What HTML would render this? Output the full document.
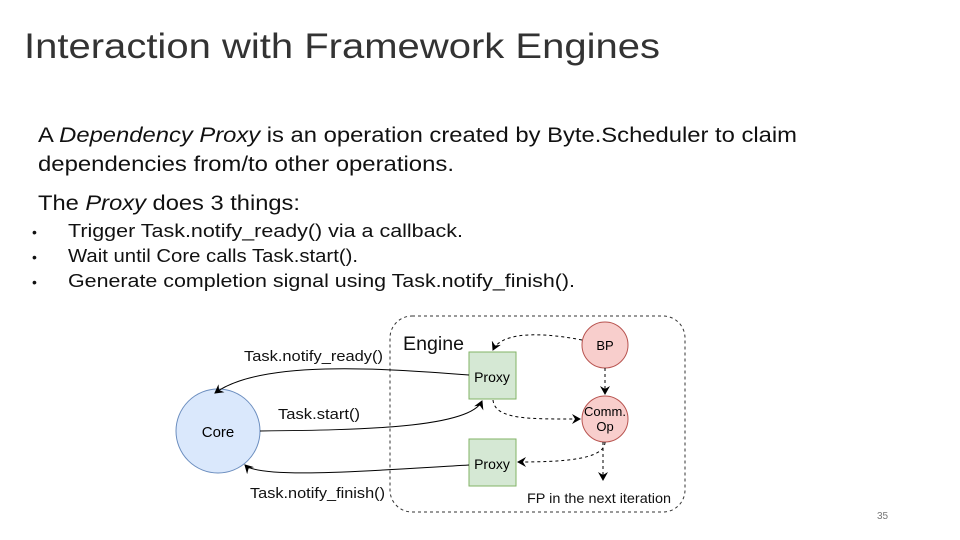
<!DOCTYPE html>
<html><head><meta charset="utf-8"><style>html,body{margin:0;padding:0;background:#fff}svg{display:block}</style></head>
<body>
<svg width="960" height="540" viewBox="0 0 960 540" xmlns="http://www.w3.org/2000/svg" font-family="Liberation Sans, sans-serif">
<defs>
<marker id="a" markerWidth="10" markerHeight="10" refX="8" refY="5" orient="auto" markerUnits="userSpaceOnUse"><path d="M0,0 L9,5 L0,10 L3,5 Z" fill="#000"/></marker>
</defs>
<text x="24" y="58" font-size="35" fill="#333" textLength="636" lengthAdjust="spacingAndGlyphs">Interaction with Framework Engines</text>
<text x="38" y="142" font-size="21" fill="#111" textLength="759" lengthAdjust="spacingAndGlyphs">A <tspan font-style="italic">Dependency Proxy</tspan> is an operation created by Byte.Scheduler to claim</text>
<text x="38" y="171" font-size="21" fill="#111" textLength="416" lengthAdjust="spacingAndGlyphs">dependencies from/to other operations.</text>
<text x="38" y="210" font-size="21" fill="#111" textLength="262" lengthAdjust="spacingAndGlyphs">The <tspan font-style="italic">Proxy</tspan> does 3 things:</text>
<g font-size="18" fill="#111">
<text x="32" y="237" font-size="14">•</text><text x="68" y="237" textLength="395" lengthAdjust="spacingAndGlyphs">Trigger Task.notify_ready() via a callback.</text>
<text x="32" y="262" font-size="14">•</text><text x="68" y="262" textLength="290" lengthAdjust="spacingAndGlyphs">Wait until Core calls Task.start().</text>
<text x="32" y="287" font-size="14">•</text><text x="68" y="287" textLength="507" lengthAdjust="spacingAndGlyphs">Generate completion signal using Task.notify_finish().</text>
</g>
<rect x="390" y="316" width="295" height="196" rx="22" fill="none" stroke="#333" stroke-dasharray="3,3"/>
<text x="403" y="350" font-size="19" fill="#111" textLength="61" lengthAdjust="spacingAndGlyphs">Engine</text>
<circle cx="218" cy="431" r="42" fill="#dae8fc" stroke="#6c8ebf"/>
<text x="218" y="437" font-size="15" text-anchor="middle">Core</text>
<rect x="469" y="352" width="47" height="47" fill="#d5e8d4" stroke="#82b366"/>
<text x="492" y="382" font-size="14" text-anchor="middle">Proxy</text>
<rect x="469" y="439" width="47" height="47" fill="#d5e8d4" stroke="#82b366"/>
<text x="492" y="469" font-size="14" text-anchor="middle">Proxy</text>
<circle cx="605" cy="345" r="23" fill="#f8cecc" stroke="#b85450"/>
<text x="605" y="350" font-size="13" text-anchor="middle">BP</text>
<circle cx="605" cy="419" r="23" fill="#f8cecc" stroke="#b85450"/>
<text x="605" y="416" font-size="13" text-anchor="middle">Comm.</text>
<text x="605" y="431" font-size="13" text-anchor="middle">Op</text>
<g fill="none" stroke="#000">
<path d="M469,375 C380,368 260,360 215,393" marker-end="url(#a)"/>
<path d="M260,431 C360,430 470,428 482,401" marker-end="url(#a)"/>
<path d="M469,465 C380,470 260,480 245,465" marker-end="url(#a)"/>
</g>
<g fill="none" stroke="#000" stroke-dasharray="3,3">
<path d="M582,340 C530,330 500,335 493,350" marker-end="url(#a)"/>
<path d="M605,368 L605,394" marker-end="url(#a)"/>
<path d="M493,400 C495,420 530,419 580,419" marker-end="url(#a)"/>
<path d="M605,442 C605,460 560,462 518,462" marker-end="url(#a)"/>
<path d="M603,442 L603,480" marker-end="url(#a)"/>
</g>
<g font-size="15" fill="#111">
<text x="244" y="361" textLength="139" lengthAdjust="spacingAndGlyphs">Task.notify_ready()</text>
<text x="278" y="419" textLength="82" lengthAdjust="spacingAndGlyphs">Task.start()</text>
<text x="250" y="498" textLength="135" lengthAdjust="spacingAndGlyphs">Task.notify_finish()</text>
<text x="527" y="503" font-size="14" textLength="144" lengthAdjust="spacingAndGlyphs">FP in the next iteration</text>
</g>
<text x="877" y="519" font-size="10" fill="#777">35</text>
</svg>
</body></html>
